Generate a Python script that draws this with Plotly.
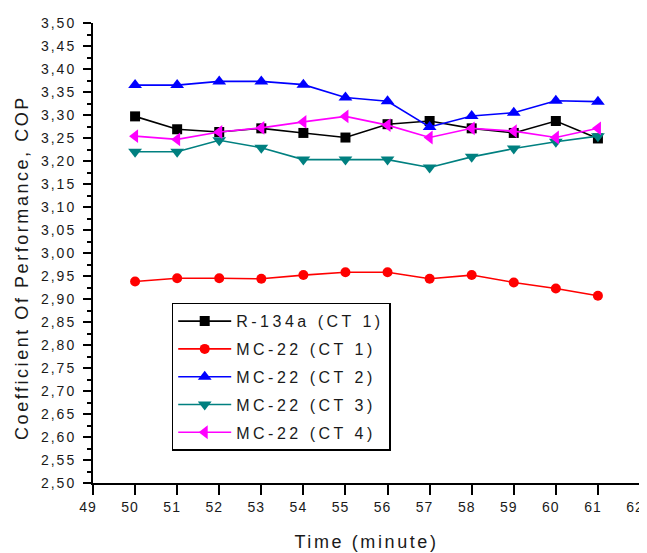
import plotly.graph_objects as go

time_min = [50, 51, 52, 53, 54, 55, 56, 57, 58, 59, 60, 61]

r134a_ct1 = [3.297, 3.269, 3.263, 3.271, 3.261, 3.251, 3.280, 3.287, 3.271, 3.261, 3.287, 3.249]
mc22_ct1 = [2.938, 2.945, 2.945, 2.944, 2.952, 2.958, 2.958, 2.944, 2.952, 2.936, 2.923, 2.907]
mc22_ct2 = [3.365, 3.365, 3.373, 3.373, 3.366, 3.338, 3.330, 3.274, 3.298, 3.305, 3.331, 3.329]
mc22_ct3 = [3.220, 3.220, 3.245, 3.229, 3.203, 3.203, 3.203, 3.186, 3.209, 3.227, 3.242, 3.254]
mc22_ct4 = [3.254, 3.247, 3.263, 3.272, 3.285, 3.297, 3.278, 3.251, 3.271, 3.265, 3.251, 3.271]

series_names = ["R-134a (CT 1)", "MC-22 (CT 1)", "MC-22 (CT 2)", "MC-22 (CT 3)", "MC-22 (CT 4)"]
series_values = [r134a_ct1, mc22_ct1, mc22_ct2, mc22_ct3, mc22_ct4]
series_colors = ["#000000", "#FF0000", "#0000FF", "#008080", "#FF00FF"]
series_symbols = ["square", "circle", "triangle-up", "triangle-down", "triangle-left"]
series_sizes = [10, 10, 12, 12, 12]

x_tick_values = [49, 50, 51, 52, 53, 54, 55, 56, 57, 58, 59, 60, 61, 62]
x_tick_labels = ["49", "50", "51", "52", "53", "54", "55", "56", "57", "58", "59", "60", "61", "62"]
y_tick_values = [2.50, 2.55, 2.60, 2.65, 2.70, 2.75, 2.80, 2.85, 2.90, 2.95, 3.00,
                 3.05, 3.10, 3.15, 3.20, 3.25, 3.30, 3.35, 3.40, 3.45, 3.50]
y_tick_labels = ["2,50", "2,55", "2,60", "2,65", "2,70", "2,75", "2,80", "2,85", "2,90", "2,95", "3,00",
                 "3,05", "3,10", "3,15", "3,20", "3,25", "3,30", "3,35", "3,40", "3,45", "3,50"]

x_title = "Time (minute)"
y_title = "Coefficient Of Performance, COP"


def spaced(text, px):
    return f'<span style="letter-spacing:{px}px">{text}</span>'


TEXT_COL = "#1a1a1a"
FONT = "Liberation Sans, Arial, sans-serif"

fig = go.Figure()
for i, (name, vals, col, sym, sz) in enumerate(zip(series_names, series_values, series_colors, series_symbols, series_sizes)):
    fig.add_trace(go.Scatter(
        x=time_min, y=vals, name=spaced(name, 3.5), mode="lines+markers",
        legendgroup=f"g{i}",
        line=dict(color=col, width=1.6),
        marker=dict(symbol=sym, size=sz, color=col, line=dict(width=0)),
    ))

# the page body keeps its default 8px margin, so the figure is sized to fill the rest of the window
fig.update_layout(
    width=639, height=545,
    margin=dict(l=85, r=7, t=15, b=70, autoexpand=False),
    paper_bgcolor="white", plot_bgcolor="white",
    font=dict(family=FONT, color=TEXT_COL),
    showlegend=True,
    legend=dict(
        x=0.1439, y=0.392, xanchor="left", yanchor="top",
        bordercolor="#000000", borderwidth=1.5, bgcolor="white",
        font=dict(family=FONT, size=16, color=TEXT_COL),
        tracegroupgap=4, traceorder="grouped",
        itemwidth=53,
    ),
    annotations=[dict(
        text=spaced(y_title, 2.55), textangle=-90,
        xref="paper", yref="paper", x=0, y=0.4675,
        xanchor="center", yanchor="middle", xshift=-71, showarrow=False,
        font=dict(family=FONT, size=18, color=TEXT_COL),
    )],
)

fig.update_xaxes(
    range=[49, 62], tickmode="array", tickvals=x_tick_values,
    ticktext=[spaced(t, 1) for t in x_tick_labels],
    ticklabeloverflow="allow", ticklabelshift=-5,
    showgrid=False, zeroline=False, automargin=False,
    showline=True, linecolor="#000000", linewidth=2,
    ticks="outside", ticklen=10, tickwidth=1.5, tickcolor="#000000",
    tickfont=dict(family=FONT, size=14, color=TEXT_COL),
    title=dict(text=spaced(x_title, 2.6), font=dict(family=FONT, size=18, color=TEXT_COL), standoff=22),
)
fig.update_yaxes(
    range=[2.5, 3.5], tickmode="array", tickvals=y_tick_values,
    ticktext=[spaced(t, 2) for t in y_tick_labels],
    showgrid=False, zeroline=False, automargin=False,
    showline=True, linecolor="#000000", linewidth=2,
    ticks="outside", ticklen=8, tickwidth=1.5, tickcolor="#000000",
    ticklabelstandoff=4,
    minor=dict(tickmode="linear", tick0=2.5, dtick=0.025, ticks="outside", ticklen=4,
               tickwidth=1.5, tickcolor="#000000", showgrid=False),
    tickfont=dict(family=FONT, size=14, color=TEXT_COL),
)

fig.write_html("out.html")
